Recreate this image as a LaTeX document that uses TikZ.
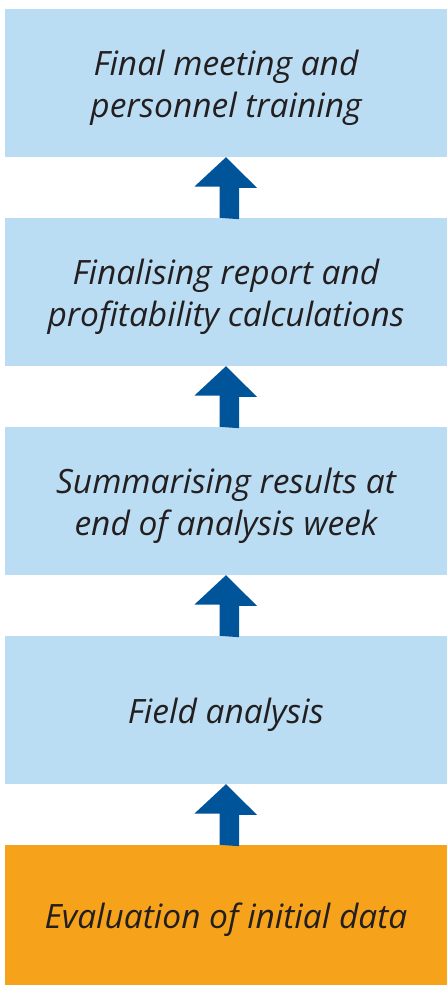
\documentclass[tikz,border=0pt]{standalone}
\usepackage{fontspec}
\setmainfont{Open Sans}
\definecolor{boxblue}{RGB}{187,221,243}
\definecolor{boxorange}{RGB}{246,163,27}
\definecolor{arrowblue}{RGB}{0,84,154}
\definecolor{textdark}{RGB}{35,31,32}
\begin{document}
\begin{tikzpicture}[x=1pt,y=-1pt,
  stepbox/.style={fill=boxblue, draw=none, minimum width=442pt, minimum height=148pt,
    inner sep=0pt},
  startbox/.style={stepbox, fill=boxorange, minimum height=140pt},
  steptext/.style={align=center, text=textdark, inner sep=0pt, yshift=-5pt,
    font=\fontsize{33.5}{42}\selectfont\itshape},
  uparrow/.style={fill=arrowblue, draw=none}]
\useasboundingbox (0,0) rectangle (447,985);
\node[stepbox, label={[steptext, name=t5]center:Final meeting and\\personnel training}] (s5) at (226,83) {};
\node[stepbox, label={[steptext, name=t4]center:Finalising report and\\profitability calculations}] (s4) at (226,292) {};
\node[stepbox, label={[steptext, name=t3]center:Summarising results at\\end of analysis week}] (s3) at (226,501) {};
\node[stepbox, label={[steptext, name=t2]center:Field analysis}] (s2) at (226,710) {};
\node[startbox, label={[steptext, name=t1]center:Evaluation of initial data}] (s1) at (226,915) {};
% block arrows between consecutive steps
\foreach \lo/\hi in {s1/s2, s2/s3, s3/s4, s4/s5}{
  \fill[uparrow] (\lo.north) ++(-6.5,0) -- ++(0,-31.3) -- ++(-25,0)
    -- (\hi.south) -- ++(31,30.7) -- ++(-18,0) -- ++(0,31.3) -- cycle;
}
\end{tikzpicture}
\end{document}
